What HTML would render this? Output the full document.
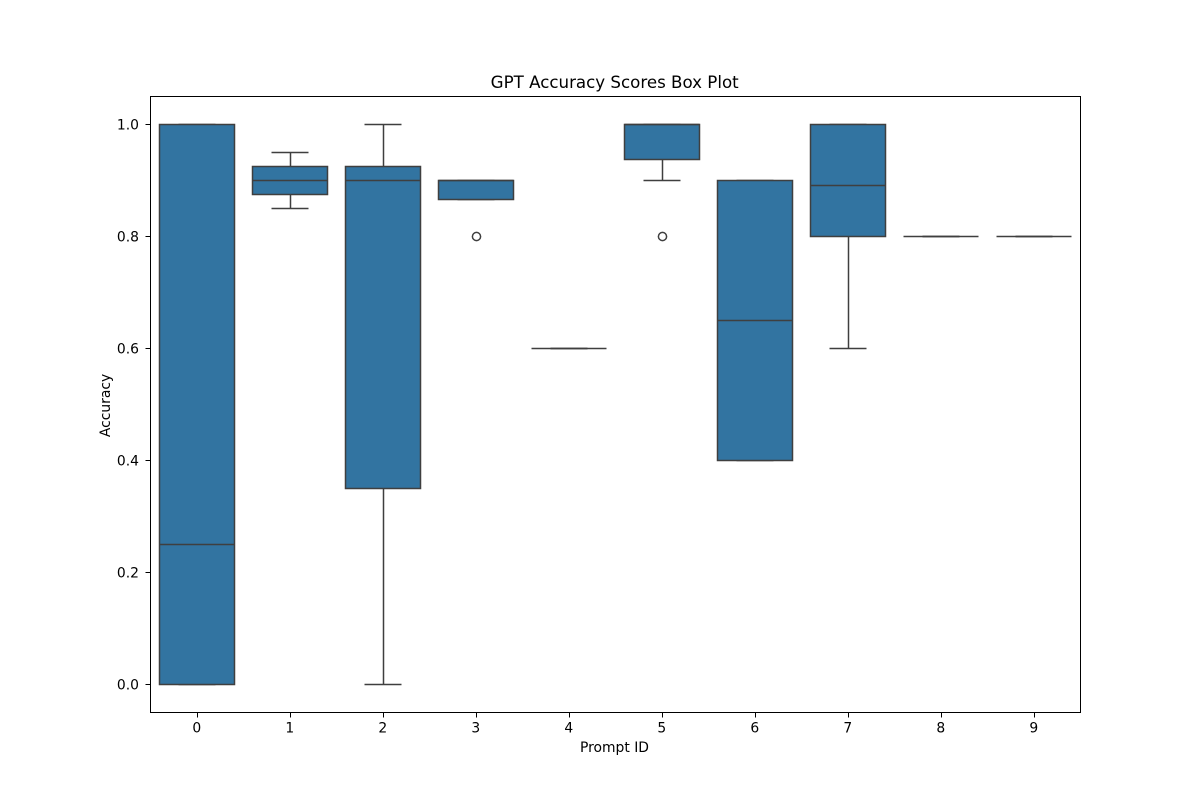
<!DOCTYPE html>
<html>
<head>
<meta charset="utf-8">
<title>GPT Accuracy Scores Box Plot</title>
<style>
html,body{margin:0;padding:0;background:#fff;width:1200px;height:800px;overflow:hidden}
svg{display:block}
text{font-family:"DejaVu Sans",sans-serif;fill:#000}
</style>
</head>
<body>
<svg id="chart" width="1200" height="800" viewBox="0 0 1200 800" xmlns="http://www.w3.org/2000/svg"></svg>
<script>
const categories = ['0','1','2','3','4','5','6','7','8','9'];
const whiskerLow = [0, 0.85, 0, 0.8667, 0.6, 0.9, 0.4, 0.6, 0.8, 0.8];
const quartile1 = [0, 0.875, 0.35, 0.8667, 0.6, 0.9375, 0.4, 0.8, 0.8, 0.8];
const medians = [0.25, 0.9, 0.9, 0.9, 0.6, 1, 0.65, 0.891, 0.8, 0.8];
const quartile3 = [1, 0.925, 0.925, 0.9, 0.6, 1, 0.9, 1, 0.8, 0.8];
const whiskerHigh = [1, 0.95, 1, 0.9, 0.6, 1, 0.9, 1, 0.8, 0.8];
const outliers = [[], [], [], [0.8], [], [0.8], [], [], [], []];
const yTicks = [0, 0.2, 0.4, 0.6, 0.8, 1];
const yTickLabels = ['0.0', '0.2', '0.4', '0.6', '0.8', '1.0'];

const NS = 'http://www.w3.org/2000/svg';
const svg = document.getElementById('chart');
const plot = {left: 150.5, right: 1080.5, top: 96.5, bottom: 712.5};
const xMin = -0.5, xMax = 9.5, yMin = -0.05, yMax = 1.05;
const LINE = '#3f3f3f';
const LW = 1.5;

function xScale(v) { return plot.left + (v - xMin) / (xMax - xMin) * (plot.right - plot.left); }
function yScale(v) { return plot.bottom - (v - yMin) / (yMax - yMin) * (plot.bottom - plot.top); }
function snap(v) { return Math.floor(v + 1e-6) + 0.5; }

function make(tag, attrs, parent) {
  const el = document.createElementNS(NS, tag);
  for (const k in attrs) el.setAttribute(k, attrs[k]);
  (parent || svg).appendChild(el);
  return el;
}
function line(x1, y1, x2, y2, stroke, width, parent) {
  return make('line', {x1: x1, y1: y1, x2: x2, y2: y2, stroke: stroke, 'stroke-width': width}, parent);
}

const bg = make('rect', {x: plot.left, y: plot.top, width: plot.right - plot.left, height: plot.bottom - plot.top, fill: '#fff'});



categories.forEach(function (cat, i) {
  const g = make('g', {});
  
  
  const raw = xScale(i);
  const cx = snap(raw);
  const half = 0.4 * (xScale(1) - xScale(0));
  const capHalf = half / 2;
  const boxL = snap(raw - half), boxR = snap(raw + half);
  const capL = snap(raw - capHalf), capR = snap(raw + capHalf);
  const yWL = snap(yScale(whiskerLow[i])), yQ1 = snap(yScale(quartile1[i]));
  const yMd = snap(yScale(medians[i]));
  const yQ3 = snap(yScale(quartile3[i])), yWH = snap(yScale(whiskerHigh[i]));

  const whiskLo = line(cx, yQ1, cx, yWL, LINE, LW, g);
  
  
  const whiskHi = line(cx, yQ3, cx, yWH, LINE, LW, g);
  
  
  const capLo = line(capL, yWL, capR, yWL, LINE, LW, g);
  
  
  const capHi = line(capL, yWH, capR, yWH, LINE, LW, g);
  
  

  const box = make('rect', {
    x: boxL,
    y: yQ3,
    width: boxR - boxL,
    height: yQ1 - yQ3,
    fill: '#3274a1',
    stroke: LINE,
    'stroke-width': LW
  }, g);
  
  

  const med = line(boxL, yMd, boxR, yMd, LINE, LW, g);
  
  

  outliers[i].forEach(function (v) {
    const o = make('circle', {cx: cx, cy: snap(yScale(v)), r: 4.1, fill: 'none', stroke: LINE, 'stroke-width': LW}, g);
    
    
  });
});

const frame = make('rect', {x: plot.left, y: plot.top, width: plot.right - plot.left, height: plot.bottom - plot.top, fill: 'none', stroke: '#000', 'stroke-width': 1});



categories.forEach(function (cat, i) {
  const x = snap(xScale(i));
  const t = line(x, plot.bottom, x, plot.bottom + 5, '#000', 1);
  
  
  const lbl = make('text', {x: xScale(i) - 0.2, y: 732.5, 'font-size': 13.89, 'text-anchor': 'middle'});
  lbl.textContent = cat;
  
  
});

yTicks.forEach(function (v, i) {
  const y = snap(yScale(v));
  const t = line(plot.left - 5, y, plot.left, y, '#000', 1);
  
  
  const lbl = make('text', {x: 139, y: y + 4.9, 'font-size': 13.89, 'text-anchor': 'end'});
  lbl.textContent = yTickLabels[i];
  
  
});

const title = make('text', {x: 614.7, y: 88, 'font-size': 16.67, 'text-anchor': 'middle'});
title.textContent = 'GPT Accuracy Scores Box Plot';



const xTitle = make('text', {x: 614.5, y: 752, 'font-size': 13.89, 'text-anchor': 'middle'});
xTitle.textContent = 'Prompt ID';



const yTitle = make('text', {x: 0, y: 0, 'font-size': 13.89, 'text-anchor': 'middle', transform: 'translate(110 405.5) rotate(-90)'});
yTitle.textContent = 'Accuracy';


</script>
</body>
</html>
